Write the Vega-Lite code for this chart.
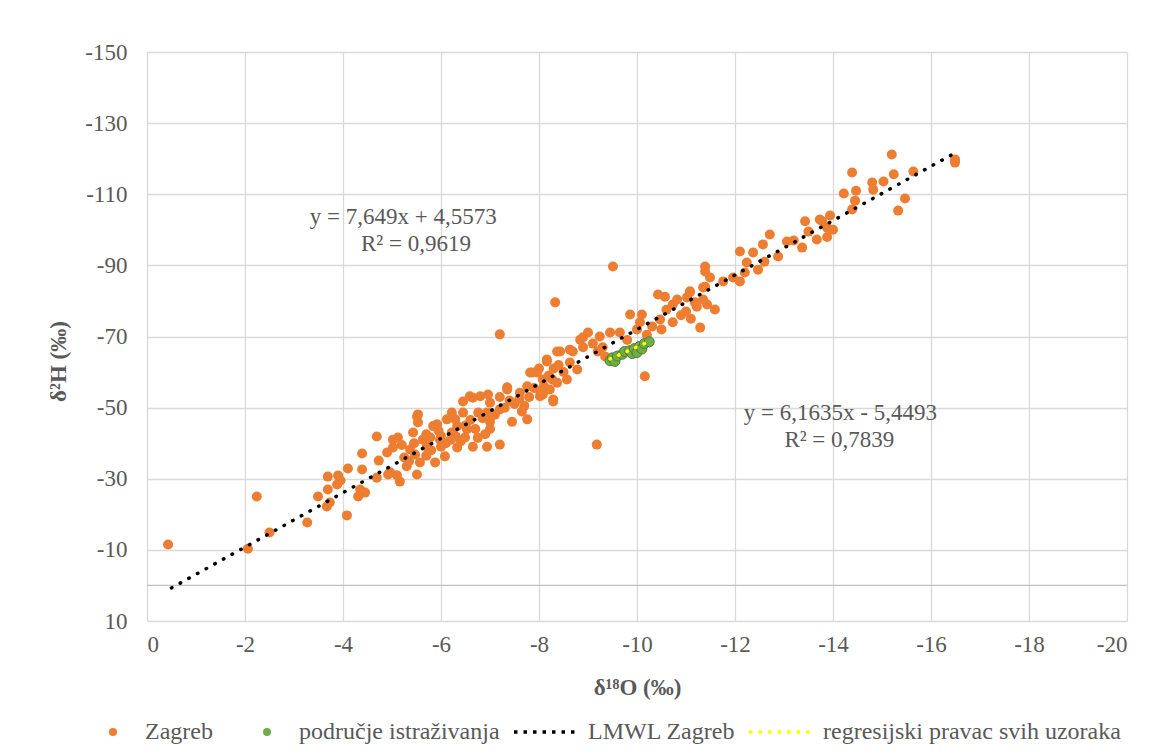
{
  "$schema": "https://vega.github.io/schema/vega-lite/v6.json",
  "width": 980,
  "height": 569,
  "autosize": {"type": "none"},
  "padding": {"left": 147, "top": 52, "right": 44, "bottom": 135},
  "background": "white",
  "config": {
    "font": "Liberation Serif",
    "view": {"stroke": null},
    "axis": {
      "labelFont": "Liberation Serif", "labelFontSize": 23, "labelColor": "#595959",
      "titleFont": "Liberation Serif", "titleFontSize": 23, "titleColor": "#595959", "titleFontWeight": "bold",
      "gridColor": "#d9d9d9", "gridWidth": 1.3, "domain": false, "ticks": false
    },
    "legend": {
      "labelFont": "Liberation Serif", "labelFontSize": 24, "labelColor": "#595959", "labelLimit": 0
    }
  },
  "datasets": {
    "zagreb": [
      {"series":"Zagreb","x":-0.43,"y":-11.5},{"series":"Zagreb","x":-2.06,"y":-10.3},{"series":"Zagreb","x":-2.24,"y":-25},{"series":"Zagreb","x":-2.5,"y":-14.9},
      {"series":"Zagreb","x":-3.27,"y":-17.7},{"series":"Zagreb","x":-4.08,"y":-19.7},{"series":"Zagreb","x":-3.49,"y":-25},{"series":"Zagreb","x":-3.67,"y":-22.2},
      {"series":"Zagreb","x":-3.73,"y":-23.3},{"series":"Zagreb","x":-3.69,"y":-30.6},{"series":"Zagreb","x":-3.9,"y":-30.9},{"series":"Zagreb","x":-3.69,"y":-27},
      {"series":"Zagreb","x":-3.88,"y":-28.4},{"series":"Zagreb","x":-3.95,"y":-29.5},{"series":"Zagreb","x":-4.1,"y":-32.9},{"series":"Zagreb","x":-4.39,"y":-37.1},
      {"series":"Zagreb","x":-4.39,"y":-32.6},{"series":"Zagreb","x":-4.31,"y":-25},{"series":"Zagreb","x":-4.45,"y":-26.1},{"series":"Zagreb","x":-4.35,"y":-27},
      {"series":"Zagreb","x":-4.69,"y":-41.9},{"series":"Zagreb","x":-4.73,"y":-35.1},{"series":"Zagreb","x":-4.69,"y":-30.3},{"series":"Zagreb","x":-4.92,"y":-31.2},
      {"series":"Zagreb","x":-5.02,"y":-41},{"series":"Zagreb","x":-5.12,"y":-41.6},{"series":"Zagreb","x":-5.16,"y":-29.2},{"series":"Zagreb","x":-5.1,"y":-31},
      {"series":"Zagreb","x":-5.3,"y":-33.5},{"series":"Zagreb","x":-5.25,"y":-36},{"series":"Zagreb","x":-5.02,"y":-38.8},{"series":"Zagreb","x":-5.37,"y":-38.2},
      {"series":"Zagreb","x":-5.57,"y":-34.6},{"series":"Zagreb","x":-5.51,"y":-31.2},{"series":"Zagreb","x":-4.96,"y":-31.8},{"series":"Zagreb","x":-5.47,"y":-36.8},
      {"series":"Zagreb","x":-5.71,"y":-39},{"series":"Zagreb","x":-5.78,"y":-41.6},{"series":"Zagreb","x":-5.98,"y":-41},{"series":"Zagreb","x":-6.08,"y":-36.3},
      {"series":"Zagreb","x":-5.88,"y":-34.6},{"series":"Zagreb","x":-6.33,"y":-38.8},{"series":"Zagreb","x":-6.65,"y":-39},{"series":"Zagreb","x":-7.2,"y":-39.6},
      {"series":"Zagreb","x":-6.9,"y":-42.5},{"series":"Zagreb","x":-6.53,"y":-43.9},{"series":"Zagreb","x":-6.22,"y":-43},{"series":"Zagreb","x":-6.49,"y":-41.6},
      {"series":"Zagreb","x":-5.92,"y":-45.3},{"series":"Zagreb","x":-5.53,"y":-48.1},{"series":"Zagreb","x":-5.53,"y":-45.8},{"series":"Zagreb","x":-6.22,"y":-48.6},
      {"series":"Zagreb","x":-6.29,"y":-46.7},{"series":"Zagreb","x":-6.76,"y":-48.6},{"series":"Zagreb","x":-7.2,"y":-49.5},{"series":"Zagreb","x":-7.65,"y":-48.9},
      {"series":"Zagreb","x":-7.76,"y":-46.7},{"series":"Zagreb","x":-7.0,"y":-51.4},{"series":"Zagreb","x":-6.65,"y":-52.8},{"series":"Zagreb","x":-6.45,"y":-51.7},
      {"series":"Zagreb","x":-6.96,"y":-53.7},{"series":"Zagreb","x":-7.35,"y":-55.1},{"series":"Zagreb","x":-8.02,"y":-54.6},{"series":"Zagreb","x":-8.29,"y":-52.3},
      {"series":"Zagreb","x":-8.27,"y":-57.9},{"series":"Zagreb","x":-7.86,"y":-59.9},{"series":"Zagreb","x":-8.16,"y":-63},{"series":"Zagreb","x":-8.37,"y":-65.8},
      {"series":"Zagreb","x":-7.2,"y":-70.6},{"series":"Zagreb","x":-6.12,"y":-46.7},{"series":"Zagreb","x":-6.33,"y":-44.8},{"series":"Zagreb","x":-5.84,"y":-44.8},
      {"series":"Zagreb","x":-5.51,"y":-47.5},{"series":"Zagreb","x":-5.43,"y":-43},{"series":"Zagreb","x":-4.9,"y":-37.4},{"series":"Zagreb","x":-5.63,"y":-41},
      {"series":"Zagreb","x":-6.0,"y":-42},{"series":"Zagreb","x":-6.94,"y":-39},{"series":"Zagreb","x":-6.8,"y":-53.2},{"series":"Zagreb","x":-6.59,"y":-53.2},
      {"series":"Zagreb","x":-6.94,"y":-48.6},{"series":"Zagreb","x":-6.45,"y":-48.6},{"series":"Zagreb","x":-7.35,"y":-55.7},{"series":"Zagreb","x":-7.61,"y":-54.2},
      {"series":"Zagreb","x":-7.76,"y":-56},{"series":"Zagreb","x":-7.82,"y":-59.9},{"series":"Zagreb","x":-8.08,"y":-57.9},{"series":"Zagreb","x":-8.02,"y":-53.2},
      {"series":"Zagreb","x":-7.96,"y":-59.9},{"series":"Zagreb","x":-8.16,"y":-63.5},{"series":"Zagreb","x":-8.63,"y":-66.3},{"series":"Zagreb","x":-8.84,"y":-69.1},
      {"series":"Zagreb","x":-6.1,"y":-40},{"series":"Zagreb","x":-6.3,"y":-42},{"series":"Zagreb","x":-6.5,"y":-45},{"series":"Zagreb","x":-6.7,"y":-44},
      {"series":"Zagreb","x":-6.0,"y":-39},{"series":"Zagreb","x":-5.8,"y":-38},{"series":"Zagreb","x":-6.2,"y":-41},{"series":"Zagreb","x":-6.4,"y":-40.5},
      {"series":"Zagreb","x":-6.6,"y":-46.5},{"series":"Zagreb","x":-6.85,"y":-47},{"series":"Zagreb","x":-7.0,"y":-46},{"series":"Zagreb","x":-7.1,"y":-48},
      {"series":"Zagreb","x":-7.3,"y":-50},{"series":"Zagreb","x":-7.4,"y":-52},{"series":"Zagreb","x":-7.5,"y":-51},{"series":"Zagreb","x":-7.2,"y":-53},
      {"series":"Zagreb","x":-7.6,"y":-52.5},{"series":"Zagreb","x":-7.8,"y":-53},{"series":"Zagreb","x":-7.9,"y":-55.5},{"series":"Zagreb","x":-8.1,"y":-56},
      {"series":"Zagreb","x":-8.2,"y":-59},{"series":"Zagreb","x":-8.3,"y":-61},{"series":"Zagreb","x":-8.0,"y":-61},{"series":"Zagreb","x":-8.4,"y":-62},
      {"series":"Zagreb","x":-8.5,"y":-60},{"series":"Zagreb","x":-7.7,"y":-50.5},{"series":"Zagreb","x":-7.45,"y":-46},{"series":"Zagreb","x":-7.0,"y":-44},
      {"series":"Zagreb","x":-6.75,"y":-41.5},{"series":"Zagreb","x":-5.95,"y":-43.5},{"series":"Zagreb","x":-5.7,"y":-42.5},{"series":"Zagreb","x":-5.45,"y":-40},
      {"series":"Zagreb","x":-5.2,"y":-39.5},{"series":"Zagreb","x":-5.35,"y":-35},{"series":"Zagreb","x":-5.7,"y":-36.5},
      {"series":"Zagreb","x":-8.33,"y":-79.6},{"series":"Zagreb","x":-9.18,"y":-39.6},{"series":"Zagreb","x":-10.16,"y":-58.8},{"series":"Zagreb","x":-9.51,"y":-89.7},
      {"series":"Zagreb","x":-8.43,"y":-65.8},{"series":"Zagreb","x":-8.69,"y":-65.8},{"series":"Zagreb","x":-8.9,"y":-69.8},{"series":"Zagreb","x":-9.0,"y":-71.1},
      {"series":"Zagreb","x":-9.24,"y":-70},{"series":"Zagreb","x":-9.45,"y":-71.1},{"series":"Zagreb","x":-9.65,"y":-71.1},{"series":"Zagreb","x":-10.0,"y":-72},
      {"series":"Zagreb","x":-10.06,"y":-74},{"series":"Zagreb","x":-10.31,"y":-72.8},{"series":"Zagreb","x":-10.47,"y":-74.8},{"series":"Zagreb","x":-10.73,"y":-74},
      {"series":"Zagreb","x":-9.86,"y":-76.2},{"series":"Zagreb","x":-10.1,"y":-76.2},{"series":"Zagreb","x":-10.43,"y":-81.8},{"series":"Zagreb","x":-10.57,"y":-81.2},
      {"series":"Zagreb","x":-10.82,"y":-80.4},{"series":"Zagreb","x":-10.73,"y":-79},{"series":"Zagreb","x":-11.02,"y":-81},{"series":"Zagreb","x":-11.39,"y":-84},
      {"series":"Zagreb","x":-11.43,"y":-79},{"series":"Zagreb","x":-11.22,"y":-78.4},{"series":"Zagreb","x":-8.63,"y":-62.7},{"series":"Zagreb","x":-8.78,"y":-60.7},
      {"series":"Zagreb","x":-8.57,"y":-57.9},{"series":"Zagreb","x":-8.37,"y":-57},{"series":"Zagreb","x":-8.22,"y":-55.1},{"series":"Zagreb","x":-8.08,"y":-53.7},
      {"series":"Zagreb","x":-8.29,"y":-51.7},{"series":"Zagreb","x":-9.35,"y":-64.4},{"series":"Zagreb","x":-9.2,"y":-65.8},{"series":"Zagreb","x":-9.55,"y":-63.5},
      {"series":"Zagreb","x":-8.9,"y":-67},{"series":"Zagreb","x":-9.1,"y":-68},{"series":"Zagreb","x":-9.3,"y":-67},{"series":"Zagreb","x":-9.8,"y":-69},
      {"series":"Zagreb","x":-10.2,"y":-70.5},{"series":"Zagreb","x":-10.5,"y":-72},{"series":"Zagreb","x":-10.9,"y":-76},{"series":"Zagreb","x":-11.0,"y":-77},
      {"series":"Zagreb","x":-11.1,"y":-75},{"series":"Zagreb","x":-10.6,"y":-77.5},{"series":"Zagreb","x":-11.08,"y":-82.7},{"series":"Zagreb","x":-11.29,"y":-72.5},
      {"series":"Zagreb","x":-11.39,"y":-89.7},{"series":"Zagreb","x":-11.39,"y":-88.3},{"series":"Zagreb","x":-11.49,"y":-86.6},{"series":"Zagreb","x":-11.76,"y":-85.5},
      {"series":"Zagreb","x":-11.96,"y":-86.6},{"series":"Zagreb","x":-12.1,"y":-85.5},{"series":"Zagreb","x":-11.35,"y":-83.8},{"series":"Zagreb","x":-11.18,"y":-79.6},
      {"series":"Zagreb","x":-11.08,"y":-82.4},{"series":"Zagreb","x":-11.35,"y":-80.4},{"series":"Zagreb","x":-11.59,"y":-77.6},{"series":"Zagreb","x":-12.1,"y":-93.9},
      {"series":"Zagreb","x":-12.24,"y":-90.8},{"series":"Zagreb","x":-12.47,"y":-88.8},{"series":"Zagreb","x":-12.37,"y":-93.6},{"series":"Zagreb","x":-12.57,"y":-95.9},
      {"series":"Zagreb","x":-12.71,"y":-98.7},{"series":"Zagreb","x":-12.88,"y":-92.5},{"series":"Zagreb","x":-13.06,"y":-96.7},{"series":"Zagreb","x":-13.37,"y":-95},
      {"series":"Zagreb","x":-13.43,"y":-102.4},{"series":"Zagreb","x":-13.67,"y":-97.3},{"series":"Zagreb","x":-13.78,"y":-102.4},{"series":"Zagreb","x":-13.88,"y":-100.6},
      {"series":"Zagreb","x":-13.73,"y":-102.9},{"series":"Zagreb","x":-13.94,"y":-104},{"series":"Zagreb","x":-14.0,"y":-100},{"series":"Zagreb","x":-13.88,"y":-98},
      {"series":"Zagreb","x":-14.22,"y":-110.2},{"series":"Zagreb","x":-14.39,"y":-116.1},{"series":"Zagreb","x":-14.47,"y":-111},{"series":"Zagreb","x":-14.45,"y":-108.2},
      {"series":"Zagreb","x":-14.39,"y":-105.7},{"series":"Zagreb","x":-14.8,"y":-113.3},{"series":"Zagreb","x":-14.82,"y":-111.3},{"series":"Zagreb","x":-15.03,"y":-113.6},
      {"series":"Zagreb","x":-15.2,"y":-121.2},{"series":"Zagreb","x":-15.24,"y":-115.6},{"series":"Zagreb","x":-15.64,"y":-116.4},{"series":"Zagreb","x":-15.47,"y":-108.8},
      {"series":"Zagreb","x":-15.33,"y":-105.4},{"series":"Zagreb","x":-16.49,"y":-119.8},{"series":"Zagreb","x":-16.49,"y":-118.9},{"series":"Zagreb","x":-12.6,"y":-91},
      {"series":"Zagreb","x":-12.2,"y":-88},{"series":"Zagreb","x":-13.2,"y":-97},{"series":"Zagreb","x":-13.5,"y":-99.5}
    ],
    "podrucje": [
      {"series":"područje istraživanja","x":-9.45,"y":-63.2},{"series":"područje istraživanja","x":-9.5,"y":-64.0},{"series":"područje istraživanja","x":-9.55,"y":-63.0},
      {"series":"područje istraživanja","x":-9.6,"y":-64.5},{"series":"područje istraživanja","x":-9.7,"y":-65.0},{"series":"područje istraživanja","x":-9.75,"y":-65.8},
      {"series":"područje istraživanja","x":-9.85,"y":-66.0},{"series":"područje istraživanja","x":-9.9,"y":-65.2},{"series":"područje istraživanja","x":-9.95,"y":-66.6},
      {"series":"područje istraživanja","x":-10.0,"y":-65.5},{"series":"područje istraživanja","x":-10.05,"y":-67.2},{"series":"područje istraživanja","x":-10.1,"y":-66.5},
      {"series":"područje istraživanja","x":-10.15,"y":-68.0},{"series":"područje istraživanja","x":-10.25,"y":-68.5}
    ],
    "lmwl": [
      {"series":"LMWL Zagreb","x":-0.5,"y":0.7},
      {"series":"LMWL Zagreb","x":-16.5,"y":-121.7}
    ],
    "regres": [
      {"series":"regresijski pravac svih uzoraka","x":-9.45,"y":-63.7},
      {"series":"regresijski pravac svih uzoraka","x":-10.27,"y":-68.75}
    ],
    "notes": [
      {"label":"y = 7,649x + 4,5573","x":-5.23,"y":-103.5},
      {"label":"R² = 0,9619","x":-5.49,"y":-95.9},
      {"label":"y = 6,1635x - 5,4493","x":-14.15,"y":-48.6},
      {"label":"R² = 0,7839","x":-14.13,"y":-41.0}
    ]
  },
  "layer": [
    {
      "data": {"values": [{"level": 0}]},
      "mark": {"type": "rule", "color": "#bfbfbf", "strokeWidth": 1.3},
      "encoding": {
        "y": {"field": "level", "type": "quantitative",
              "scale": {"domain": [-150, 10], "reverse": true, "nice": false, "zero": false},
              "axis": {"title": "δ²H (‰)", "values": [-150,-130,-110,-90,-70,-50,-30,-10,10], "labelExpr": "'' + datum.value", "labelPadding": 20, "titlePadding": 14, "titleY": 309, "grid": true}}
      }
    },
    {
      "data": {"name": "zagreb"},
      "mark": {"type": "circle", "size": 100, "opacity": 1},
      "encoding": {
        "x": {"field": "x", "type": "quantitative",
              "scale": {"domain": [-20, 0], "reverse": true, "nice": false, "zero": false},
              "axis": {"title": "δ¹⁸O (‰)", "values": [0,-2,-4,-6,-8,-10,-12,-14,-16,-18,-20], "labelExpr": "'' + datum.value", "labelPadding": 12, "titlePadding": 20, "grid": true}},
        "y": {"field": "y", "type": "quantitative", "scale": {"domain": [-150, 10], "reverse": true, "nice": false, "zero": false}},
        "fill": {"field": "series", "type": "nominal",
          "scale": {"domain": ["Zagreb", "područje istraživanja"], "range": ["#ED7D31", "#70AD47"]},
          "legend": {
            "title": null, "orient": "none", "legendX": -46, "legendY": 668, "direction": "horizontal",
            "padding": 0, "clipHeight": 24, "symbolType": "circle", "symbolSize": 64, "symbolStrokeWidth": 0,
            "labelOffset": 20, "columnPadding": 42
          }
        }
      }
    },
    {
      "data": {"name": "podrucje"},
      "mark": {"type": "circle", "size": 100, "opacity": 1, "stroke": "#507E32", "strokeWidth": 1},
      "encoding": {
        "x": {"field": "x", "type": "quantitative", "scale": {"domain": [-20, 0], "reverse": true, "nice": false, "zero": false}},
        "y": {"field": "y", "type": "quantitative", "scale": {"domain": [-150, 10], "reverse": true, "nice": false, "zero": false}},
        "fill": {"field": "series", "type": "nominal"}
      }
    },
    {
      "data": {"name": "lmwl"},
      "mark": {"type": "line", "strokeWidth": 3.5, "strokeDash": [0.5, 9.4], "strokeCap": "round"},
      "encoding": {
        "x": {"field": "x", "type": "quantitative", "scale": {"domain": [-20, 0], "reverse": true, "nice": false, "zero": false}},
        "y": {"field": "y", "type": "quantitative", "scale": {"domain": [-150, 10], "reverse": true, "nice": false, "zero": false}},
        "stroke": {"field": "series", "type": "nominal",
          "scale": {"domain": ["LMWL Zagreb", "regresijski pravac svih uzoraka"], "range": ["#000000", "#FFFF00"]},
          "legend": {
            "title": null, "orient": "none", "legendX": 365, "legendY": 668, "direction": "horizontal",
            "padding": 0, "clipHeight": 24, "symbolType": "stroke", "symbolSize": 4096, "symbolStrokeWidth": 3.5,
            "symbolDash": [3.5, 6], "labelOffset": 8, "columnPadding": 11
          }
        }
      }
    },
    {
      "data": {"name": "regres"},
      "mark": {"type": "line", "strokeWidth": 3.5, "strokeDash": [0.5, 8.8], "strokeCap": "round"},
      "encoding": {
        "x": {"field": "x", "type": "quantitative", "scale": {"domain": [-20, 0], "reverse": true, "nice": false, "zero": false}},
        "y": {"field": "y", "type": "quantitative", "scale": {"domain": [-150, 10], "reverse": true, "nice": false, "zero": false}},
        "stroke": {"field": "series", "type": "nominal"}
      }
    },
    {
      "data": {"name": "notes"},
      "mark": {"type": "text", "font": "Liberation Serif", "fontSize": 23, "color": "#595959", "align": "center", "baseline": "middle"},
      "encoding": {
        "x": {"field": "x", "type": "quantitative", "scale": {"domain": [-20, 0], "reverse": true, "nice": false, "zero": false}},
        "y": {"field": "y", "type": "quantitative", "scale": {"domain": [-150, 10], "reverse": true, "nice": false, "zero": false}},
        "text": {"field": "label", "type": "nominal"}
      }
    }
  ]
}
